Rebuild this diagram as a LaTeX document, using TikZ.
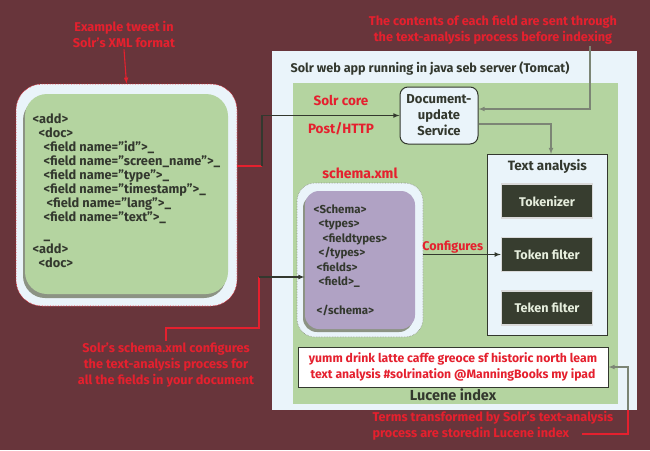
\documentclass[tikz,border=0pt]{standalone}
\usepackage{fontspec}
\setmainfont{Fira Sans}
\usepackage{xcolor}
\usepackage{tikz}
\usetikzlibrary{positioning}

\definecolor{bgmaroon}{HTML}{68353B}
\definecolor{solrred}{HTML}{E5202E}
\definecolor{leafgreen}{HTML}{B4D4A0}
\definecolor{paleblue}{HTML}{EAF4FA}
\definecolor{inkdark}{HTML}{33382E}
\definecolor{stagedark}{HTML}{373D2F}
\definecolor{stagetext}{HTML}{E6EEDD}
\definecolor{lavender}{HTML}{B0A2C4}
\definecolor{wiregray}{HTML}{7C8575}
\definecolor{shadowgray}{HTML}{8C9384}

\begin{document}
\begin{tikzpicture}[x=1pt, y=-1pt, node distance = 6pt, >=latex, line width=1.1pt]
            \tikzstyle{notetext} = [text=solrred, font=\bfseries\fontsize{12.7}{16}\selectfont, align=center, inner sep=1pt]
            \tikzstyle{tagtext} = [text=solrred, font=\bfseries\fontsize{13.5}{15}\selectfont, inner sep=1pt]
            \tikzstyle{headtext} = [text=inkdark, font=\bfseries\fontsize{12.6}{15}\selectfont, inner sep=1pt]
            \tikzstyle{codetext} = [text=inkdark, font=\bfseries\fontsize{12.8}{14}\selectfont, align=left, anchor=north west, inner sep=0pt]
            \tikzstyle{panel} = [inner sep=0pt, anchor=north west]
            \tikzstyle{stagebox} = [fill=stagedark, draw=gray!30, line width=1.5pt, text=stagetext, font=\bfseries\fontsize{12.6}{15}\selectfont, minimum width=91pt, minimum height=34pt]
            \tikzstyle{wire} = [draw=inkdark]
            \tikzstyle{redwire} = [draw=solrred]

            \fill [bgmaroon] (0,0) rectangle (650,450);
            \useasboundingbox (0,0) rectangle (650,450);

            % tweet in XML
            \node [notetext] (tweetnote) at (124,34.5) {Example tweet in\\Solr’s XML format};
            \node [inner sep=0pt, minimum width=221pt, minimum height=222pt, rounded corners=26pt, fill=paleblue, draw=solrred, densely dotted, line width=0.6pt] (tweetframe) at (126.5,195) {};
            \node [inner sep=0pt, minimum width=203pt, minimum height=200pt, rounded corners=22pt, fill=shadowgray] at (124.5,198) {};
            \node [inner sep=0pt, minimum width=203pt, minimum height=200pt, rounded corners=22pt, fill=leafgreen] (tweetbox) at (126.5,194) {};
            \node [codetext] (tweet) at (32,113) {<add>\\
                \hspace*{6pt}<doc>\\
                \hspace*{11pt}<field name="id">\_\\
                \hspace*{11pt}<field name="screen\_name">\_\\
                \hspace*{11pt}<field name="type">\_\\
                \hspace*{11pt}<field name="timestamp">\_\\
                \hspace*{14pt}<field name="lang">\_\\
                \hspace*{11pt}<field name="text">\_\\[4pt]
                \hspace*{11pt}\_\\
                <add>\\
                \hspace*{6pt}<doc>};

            % web app and core
            \node [panel, fill=paleblue, minimum width=365pt, minimum height=359pt] (webapp) at (271,50) {};
            \node [headtext, anchor=west] (webtitle) at (289,68) {Solr web app running in java seb server (Tomcat)};
            \node [panel, fill=leafgreen, minimum width=325pt, minimum height=321pt] (core) at (292,82) {};
            \node [tagtext] (corelabel) at (341,100) {Solr core};
            \node [tagtext, below = 14pt of corelabel] (postlabel) {Post/HTTP};

            \node [fill=paleblue, draw=inkdark, line width=1pt, rounded corners=8pt, minimum width=78pt, minimum height=57pt, align=center, inner sep=1pt, text=inkdark, font=\bfseries\fontsize{13}{16}\selectfont] (docsvc) at (439,115.5) {Document-\\update\\Service};

            % text analysis chain
            \node [panel, fill=paleblue, draw=inkdark, line width=0.8pt, minimum width=120pt, minimum height=181pt] (analysis) at (487,154) {};
            \node [headtext, font=\bfseries\fontsize{13.5}{15}\selectfont, below = 4pt of analysis.north] (analysistitle) {Text analysis};
            \node [stagebox] (tokenizer) at (547,201) {Tokenizer};
            \node [stagebox, below = 18pt of tokenizer] (tokenfilter) {Token filter};
            \node [stagebox, below = 18pt of tokenfilter] (tekenfilter) {Teken filter};

            % schema
            \node [inner sep=0pt, minimum width=126pt, minimum height=154pt, rounded corners=18pt, fill=paleblue, draw=shadowgray, densely dotted, line width=0.6pt] (schemaframe) at (360,260) {};
            \node [inner sep=0pt, minimum width=110pt, minimum height=138pt, rounded corners=14pt, fill=shadowgray] at (358,263) {};
            \node [inner sep=0pt, minimum width=110pt, minimum height=138pt, rounded corners=14pt, fill=lavender] (schema) at (360,260) {};
            \node [tagtext, font=\bfseries\fontsize{14}{15}\selectfont, above = 2pt of schemaframe] (schemalabel) {schema.xml};
            \node [codetext, font=\bfseries\fontsize{11.5}{14.5}\selectfont] (schemacode) at (313,204) {<Schema>\\
                \hspace*{5pt}<types>\\
                \hspace*{9pt}<fieldtypes>\\
                \hspace*{5pt}</types>\\
                \hspace*{3pt}<fields>\\
                \hspace*{5pt}<field>\_\\[14.5pt]
                \hspace*{3pt}</schema>};

            % lucene index
            \node [fill=white, draw=inkdark, line width=1pt, minimum width=310pt, minimum height=40pt, align=center, inner sep=1pt, text=solrred, font=\bfseries\fontsize{12.2}{16}\selectfont] (lucene) at (453,367) {yumm drink latte caffe greoce sf historic north leam\\text analysis \#solrination @ManningBooks my ipad};
            \node [headtext, font=\bfseries\fontsize{14.5}{15}\selectfont, below = 0pt of lucene] (lucenelabel) {Lucene index};

            % side notes
            \node [notetext] (contentnote) at (493,30) {The contents of each field are sent through\\the text-analysis process before indexing};
            \node [notetext] (schemanote) at (166,365) {Solr’s schema.xml configures\\the text-analysis process for\\all the fields in your document};
            \node [notetext, align=left, anchor=west] (termsnote) at (371,426) {Terms transformed by Solr’s text-analysis\\process are storedin Lucene index};

            \coordinate (bendA) at (262,166);
            \coordinate (bendB) at (590,109);
            \coordinate (bendC) at (551,124);
            \coordinate (bendD) at (259,328);
            \coordinate (bendE) at (259,277);
            \coordinate (bendF) at (628,434);
            \coordinate (bendG) at (582,434);

            \draw [redwire, ->] (tweetnote.south) to (tweetframe.north);
            \draw [redwire] (tweetframe.east |- bendA) to (bendA);
            \draw [wire, ->] (bendA) |- (docsvc.west);
            \draw [draw=wiregray, ->] (bendB |- contentnote.south) -- (bendB) -- (docsvc.east |- bendB);
            \draw [draw=wiregray, ->] (docsvc.east |- bendC) -- (bendC) -- (bendC |- analysis.north);
            \draw [redwire] (schemanote.north) |- (bendD) -- (bendE);
            \draw [wire, ->] (bendE) to (schema.west |- bendE);
            \draw [wire, ->] (schemaframe.east |- tokenfilter) to node [pos=0.38, above, tagtext, font=\bfseries\fontsize{12.6}{13}\selectfont] (configlabel) {Configures} (tokenfilter.west);
            \draw [redwire] (bendG) -- (bendF) -- (bendF |- webapp.south);
            \draw [draw=wiregray, ->] (bendF |- webapp.south) |- (lucene.east);
        \end{tikzpicture}
\end{document}
